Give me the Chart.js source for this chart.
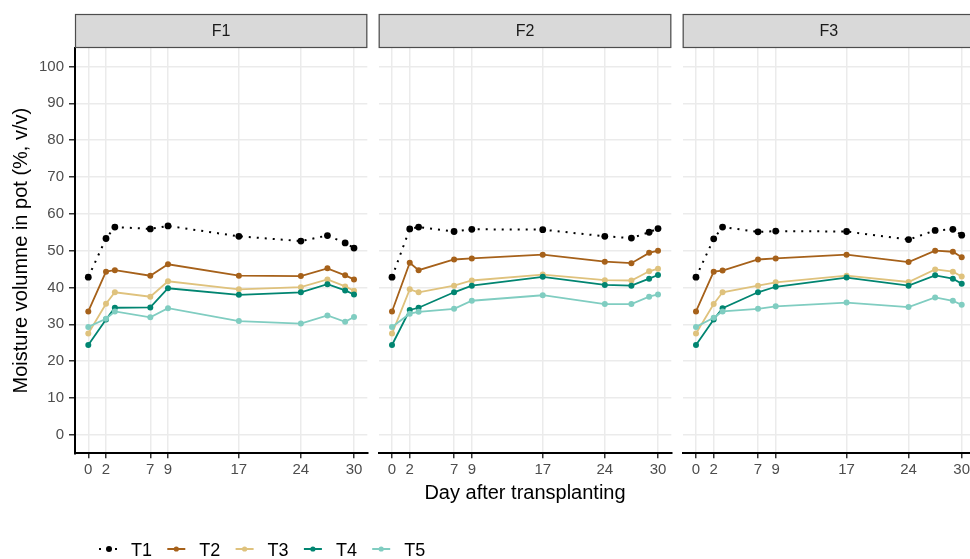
<!DOCTYPE html>
<html>
<head>
<meta charset="utf-8">
<script src="https://cdn.jsdelivr.net/npm/chart.js@4.4.1/dist/chart.umd.min.js"></script>
<style>
  html, body { margin: 0; padding: 0; background: #ffffff; }
  body { width: 970px; height: 559px; overflow: hidden; position: relative; }
  canvas { position: absolute; left: 0; top: 0; }
</style>
</head>
<body>
<canvas id="c1" width="980" height="559"></canvas>
<canvas id="c2" width="980" height="559"></canvas>
<canvas id="c3" width="980" height="559"></canvas>
<script>
// ---- data ----
const days = [0, 2, 3, 7, 9, 17, 24, 27, 29, 30];
const xTicks = [0, 2, 7, 9, 17, 24, 30];
const yTicks = [0, 10, 20, 30, 40, 50, 60, 70, 80, 90, 100];
const facets = ['F1', 'F2', 'F3'];
const treatments = ['T1', 'T2', 'T3', 'T4', 'T5'];

const F1_T1 = [42.8, 53.3, 56.4, 55.9, 56.7, 53.9, 52.6, 54.1, 52.1, 50.7];
const F1_T2 = [33.5, 44.3, 44.7, 43.2, 46.3, 43.2, 43.1, 45.2, 43.3, 42.2];
const F1_T3 = [27.5, 35.6, 38.7, 37.5, 41.7, 39.5, 40.1, 42.2, 40.3, 39.1];
const F1_T4 = [24.4, 31.3, 34.5, 34.6, 39.8, 38.0, 38.7, 40.9, 39.2, 38.1];
const F1_T5 = [29.3, 31.5, 33.5, 31.9, 34.4, 30.9, 30.2, 32.4, 30.7, 32.0];

const F2_T1 = [42.8, 55.9, 56.4, 55.2, 55.8, 55.7, 53.9, 53.4, 55.0, 56.0];
const F2_T2 = [33.5, 46.7, 44.7, 47.6, 47.9, 48.9, 47.0, 46.6, 49.4, 50.0];
const F2_T3 = [27.5, 39.5, 38.7, 40.5, 41.9, 43.5, 42.0, 41.9, 44.4, 45.1];
const F2_T4 = [24.4, 33.9, 34.5, 38.7, 40.5, 42.9, 40.7, 40.5, 42.4, 43.4];
const F2_T5 = [29.3, 32.9, 33.4, 34.2, 36.4, 37.9, 35.5, 35.5, 37.5, 38.1];

const F3_T1 = [42.8, 53.2, 56.4, 55.1, 55.3, 55.2, 53.0, 55.5, 55.8, 54.2];
const F3_T2 = [33.5, 44.3, 44.6, 47.6, 47.9, 48.9, 46.9, 50.0, 49.7, 48.2];
const F3_T3 = [27.5, 35.5, 38.7, 40.5, 41.4, 43.2, 41.5, 44.9, 44.3, 43.0];
const F3_T4 = [24.4, 31.3, 34.4, 38.7, 40.2, 42.7, 40.5, 43.3, 42.4, 41.0];
const F3_T5 = [29.3, 31.8, 33.5, 34.2, 34.9, 35.9, 34.7, 37.3, 36.4, 35.3];

const facetData = [
  [F1_T1, F1_T2, F1_T3, F1_T4, F1_T5],
  [F2_T1, F2_T2, F2_T3, F2_T4, F2_T5],
  [F3_T1, F3_T2, F3_T3, F3_T4, F3_T5]
];

// ---- styling ----
const FONT = '"Liberation Sans", Arial, Helvetica, sans-serif';
const colors = ['#000000', '#a6611a', '#dfc27d', '#018571', '#80cdc1'];
const panels = [
  { left: 75, right: 367.3 },
  { left: 378.7, right: 671.3 },
  { left: 682.7, right: 975 }
];
const CW = 980, CH = 559;
const PANEL_TOP = 48, PANEL_BOTTOM = 453.3, STRIP_TOP = 14;
const X_AXIS_H = 52;
const Y_AXIS_W = 75;

const stripPlugin = {
  id: 'strip',
  afterDraw(chart, args, opts) {
    const ctx = chart.ctx;
    const a = chart.chartArea;
    ctx.save();
    ctx.fillStyle = '#d9d9d9';
    ctx.fillRect(a.left, STRIP_TOP, a.right - a.left, PANEL_TOP - STRIP_TOP);
    ctx.strokeStyle = '#4d4d4d';
    ctx.lineWidth = 1.2;
    ctx.strokeRect(a.left + 0.5, STRIP_TOP + 0.5, a.right - a.left - 1, PANEL_TOP - STRIP_TOP - 1);
    ctx.fillStyle = '#1a1a1a';
    ctx.font = '16px ' + FONT;
    ctx.textAlign = 'center';
    ctx.textBaseline = 'middle';
    ctx.fillText(opts.label, (a.left + a.right) / 2, (STRIP_TOP + PANEL_TOP) / 2 + 1);
    ctx.restore();
  }
};

const legendPlugin = {
  id: 'ggLegend',
  afterDraw(chart, args, opts) {
    if (!opts.show) return;
    const ctx = chart.ctx;
    ctx.save();
    const y = 549;
    treatments.forEach((t, i) => {
      const x0 = 99 + 68.3 * i;
      const x1 = x0 + 18;
      ctx.strokeStyle = colors[i];
      ctx.lineWidth = 2;
      if (i === 0) {
        ctx.setLineDash([2, 6]);
      } else {
        ctx.setLineDash([]);
      }
      ctx.beginPath();
      ctx.moveTo(x0, y);
      ctx.lineTo(x1, y);
      ctx.stroke();
      ctx.setLineDash([]);
      ctx.fillStyle = colors[i];
      ctx.beginPath();
      ctx.arc((x0 + x1) / 2 + (i === 0 ? 1 : 0), y, i === 0 ? 3 : 2.6, 0, Math.PI * 2);
      ctx.fill();
      ctx.fillStyle = '#000000';
      ctx.font = '18px ' + FONT;
      ctx.textAlign = 'left';
      ctx.textBaseline = 'alphabetic';
      ctx.fillText(t, x0 + 32, y + 6.5);
    });
    ctx.restore();
  }
};

function makeChart(idx) {
  const p = panels[idx];
  const first = idx === 0;
  const middle = idx === 1;
  const datasets = treatments.map((t, i) => ({
    label: t,
    data: days.map((d, k) => ({ x: d, y: facetData[idx][i][k] })),
    borderColor: colors[i],
    backgroundColor: colors[i],
    pointBackgroundColor: colors[i],
    pointBorderColor: colors[i],
    pointRadius: i === 0 ? 3.4 : 3,
    pointBorderWidth: 0,
    borderWidth: i === 0 ? 2 : 1.8,
    borderDash: i === 0 ? [2, 6] : [],
    tension: 0,
    fill: false,
    order: 5 - i
  }));

  return new Chart(document.getElementById('c' + (idx + 1)), {
    type: 'line',
    data: { datasets },
    options: {
      responsive: false,
      animation: false,
      events: [],
      layout: {
        padding: {
          left: first ? p.left - Y_AXIS_W : p.left,
          right: CW - p.right,
          top: PANEL_TOP,
          bottom: CH - PANEL_BOTTOM - X_AXIS_H
        }
      },
      plugins: {
        legend: { display: false },
        tooltip: { enabled: false },
        strip: { label: facets[idx] },
        ggLegend: { show: first }
      },
      scales: {
        x: {
          type: 'linear',
          position: 'bottom',
          min: -1.5,
          max: 31.5,
          afterBuildTicks: (s) => { s.ticks = xTicks.map(v => ({ value: v })); },
          afterFit: (s) => { s.height = X_AXIS_H; },
          ticks: {
            autoSkip: false,
            maxRotation: 0,
            minRotation: 0,
            padding: 3,
            color: '#4d4d4d',
            font: { family: FONT, size: 15 }
          },
          grid: {
            color: '#ebebeb',
            lineWidth: 1.5,
            tickColor: '#333333',
            tickLength: 5,
            tickWidth: 1.5,
            drawTicks: true
          },
          border: { display: true, color: '#000000', width: 2 },
          title: {
            display: middle,
            text: 'Day after transplanting',
            color: '#000000',
            font: { family: FONT, size: 20 },
            padding: { top: 1, bottom: 0 }
          }
        },
        y: {
          type: 'linear',
          position: 'left',
          min: -5,
          max: 105,
          afterBuildTicks: (s) => { s.ticks = yTicks.map(v => ({ value: v })); },
          afterFit: (s) => { s.width = first ? Y_AXIS_W : 0; },
          ticks: {
            display: first,
            padding: 5,
            color: '#4d4d4d',
            font: { family: FONT, size: 15 }
          },
          grid: {
            color: '#ebebeb',
            lineWidth: 1.5,
            tickColor: '#333333',
            tickLength: 6,
            tickWidth: 1.5,
            drawTicks: first
          },
          border: { display: first, color: '#000000', width: 2 },
          title: {
            display: first,
            text: 'Moisture volumne in pot (%, v/v)',
            color: '#000000',
            font: { family: FONT, size: 20 },
            padding: { top: 9, bottom: 0 }
          }
        }
      }
    },
    plugins: [stripPlugin, legendPlugin]
  });
}

[0, 1, 2].forEach(makeChart);
</script>
</body>
</html>
